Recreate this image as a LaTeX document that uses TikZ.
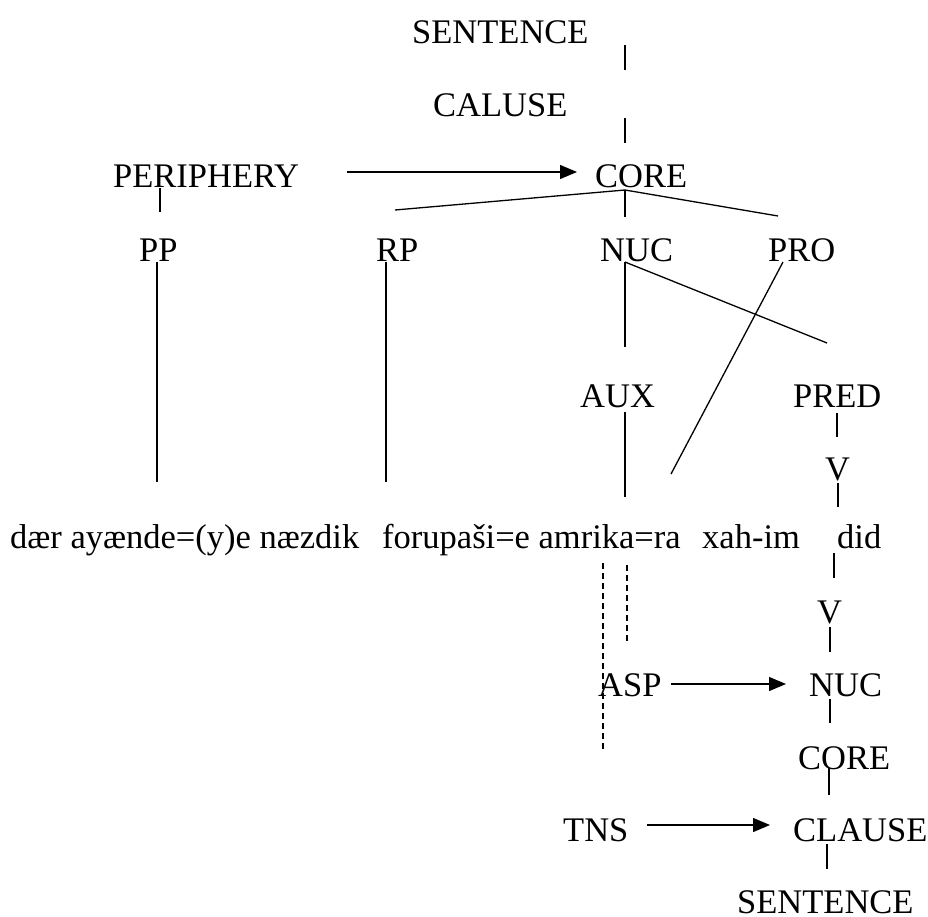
\documentclass[tikz,border=0pt]{standalone}
\usepackage{fontspec}
\setmainfont{Liberation Serif}
\usetikzlibrary{arrows.meta}
\begin{document}
\begin{tikzpicture}[x=1pt,y=-1pt,
  lbl/.style={anchor=base west,inner sep=0pt,font=\fontsize{34.5}{40}\selectfont},
  ln/.style={line width=1.3pt},
  dln/.style={line width=1.3pt,dash pattern=on 6pt off 4pt},
  arr/.style={line width=1.3pt,-{Triangle[length=17pt,width=14pt]}}]
\useasboundingbox (0,0) rectangle (928,916);
% labels
\node[lbl] (s1) at (412,43) {SENTENCE};
\node[lbl] (cl1) at (433,116) {CALUSE};
\node[lbl] (per) at (113,187) {PERIPHERY};
\node[lbl] (core1) at (595,187) {CORE};
\node[lbl] (pp) at (139,261) {PP};
\node[lbl] (rp) at (376,261) {RP};
\node[lbl] (nuc1) at (600,261) {NUC};
\node[lbl] (pro) at (768,261) {PRO};
\node[lbl] (aux) at (580,407) {AUX};
\node[lbl] (pred) at (793,407) {PRED};
\node[lbl] (v1) at (825,480) {V};
\node[lbl] (w1) at (10,548) {dær ayænde=(y)e næzdik};
\node[lbl] (w2) at (382,548) {forupaši=e amrika=ra};
\node[lbl] (w3) at (702,548) {xah-im};
\node[lbl] (w4) at (837,548) {did};
\node[lbl] (v2) at (817,623) {V};
\node[lbl] (asp) at (598,696) {ASP};
\node[lbl] (nuc2) at (809,696) {NUC};
\node[lbl] (core2) at (798,769) {CORE};
\node[lbl] (tns) at (563,841) {TNS};
\node[lbl] (clause) at (793,841) {CLAUSE};
\node[lbl] (s2) at (737,913) {SENTENCE};
% connector end points
\coordinate (a1) at (625,45);  \coordinate (a2) at (625,70);
\coordinate (b1) at (625,118); \coordinate (b2) at (625,143);
\coordinate (c1) at (347,172); \coordinate (c2) at (577,172);
\coordinate (d1) at (160,188); \coordinate (d2) at (160,212);
\coordinate (apex) at (625,190);
\coordinate (eL) at (395,210); \coordinate (eR) at (778,216); \coordinate (eM) at (625,217);
\coordinate (f1) at (157,262); \coordinate (f2) at (157,482);
\coordinate (g1) at (386,262); \coordinate (g2) at (386,482);
\coordinate (h1) at (625,262); \coordinate (h2) at (625,347); \coordinate (h3) at (827,343);
\coordinate (i1) at (783,262); \coordinate (i2) at (671,474);
\coordinate (j1) at (625,412); \coordinate (j2) at (625,497);
\coordinate (k1) at (837,413); \coordinate (k2) at (837,437);
\coordinate (l1) at (838,483); \coordinate (l2) at (838,507);
\coordinate (m1) at (834,553); \coordinate (m2) at (834,578);
\coordinate (n1) at (830,627); \coordinate (n2) at (830,652);
\coordinate (o1) at (603,563); \coordinate (o2) at (603,752);
\coordinate (p1) at (627,565); \coordinate (p2) at (627,642);
\coordinate (q1) at (671,684); \coordinate (q2) at (786,684);
\coordinate (r1) at (830,699); \coordinate (r2) at (830,723);
\coordinate (t1) at (829,768); \coordinate (t2) at (829,795);
\coordinate (u1) at (647,825); \coordinate (u2) at (770,825);
\coordinate (z1) at (827,844); \coordinate (z2) at (827,869);
% connectors
\draw[ln] (a1) -- (a2);
\draw[ln] (b1) -- (b2);
\draw[arr] (c1) -- (c2);
\draw[ln] (d1) -- (d2);
\draw[ln] (eL) -- (apex) -- (eR);
\draw[ln] (apex) -- (eM);
\draw[ln] (f1) -- (f2);
\draw[ln] (g1) -- (g2);
\draw[ln] (h1) -- (h2);
\draw[ln] (h1) -- (h3);
\draw[ln] (i1) -- (i2);
\draw[ln] (j1) -- (j2);
\draw[ln] (k1) -- (k2);
\draw[ln] (l1) -- (l2);
\draw[ln] (m1) -- (m2);
\draw[ln] (n1) -- (n2);
\draw[dln] (o1) -- (o2);
\draw[dln] (p1) -- (p2);
\draw[arr] (q1) -- (q2);
\draw[ln] (r1) -- (r2);
\draw[ln] (t1) -- (t2);
\draw[arr] (u1) -- (u2);
\draw[ln] (z1) -- (z2);
\end{tikzpicture}
\end{document}
